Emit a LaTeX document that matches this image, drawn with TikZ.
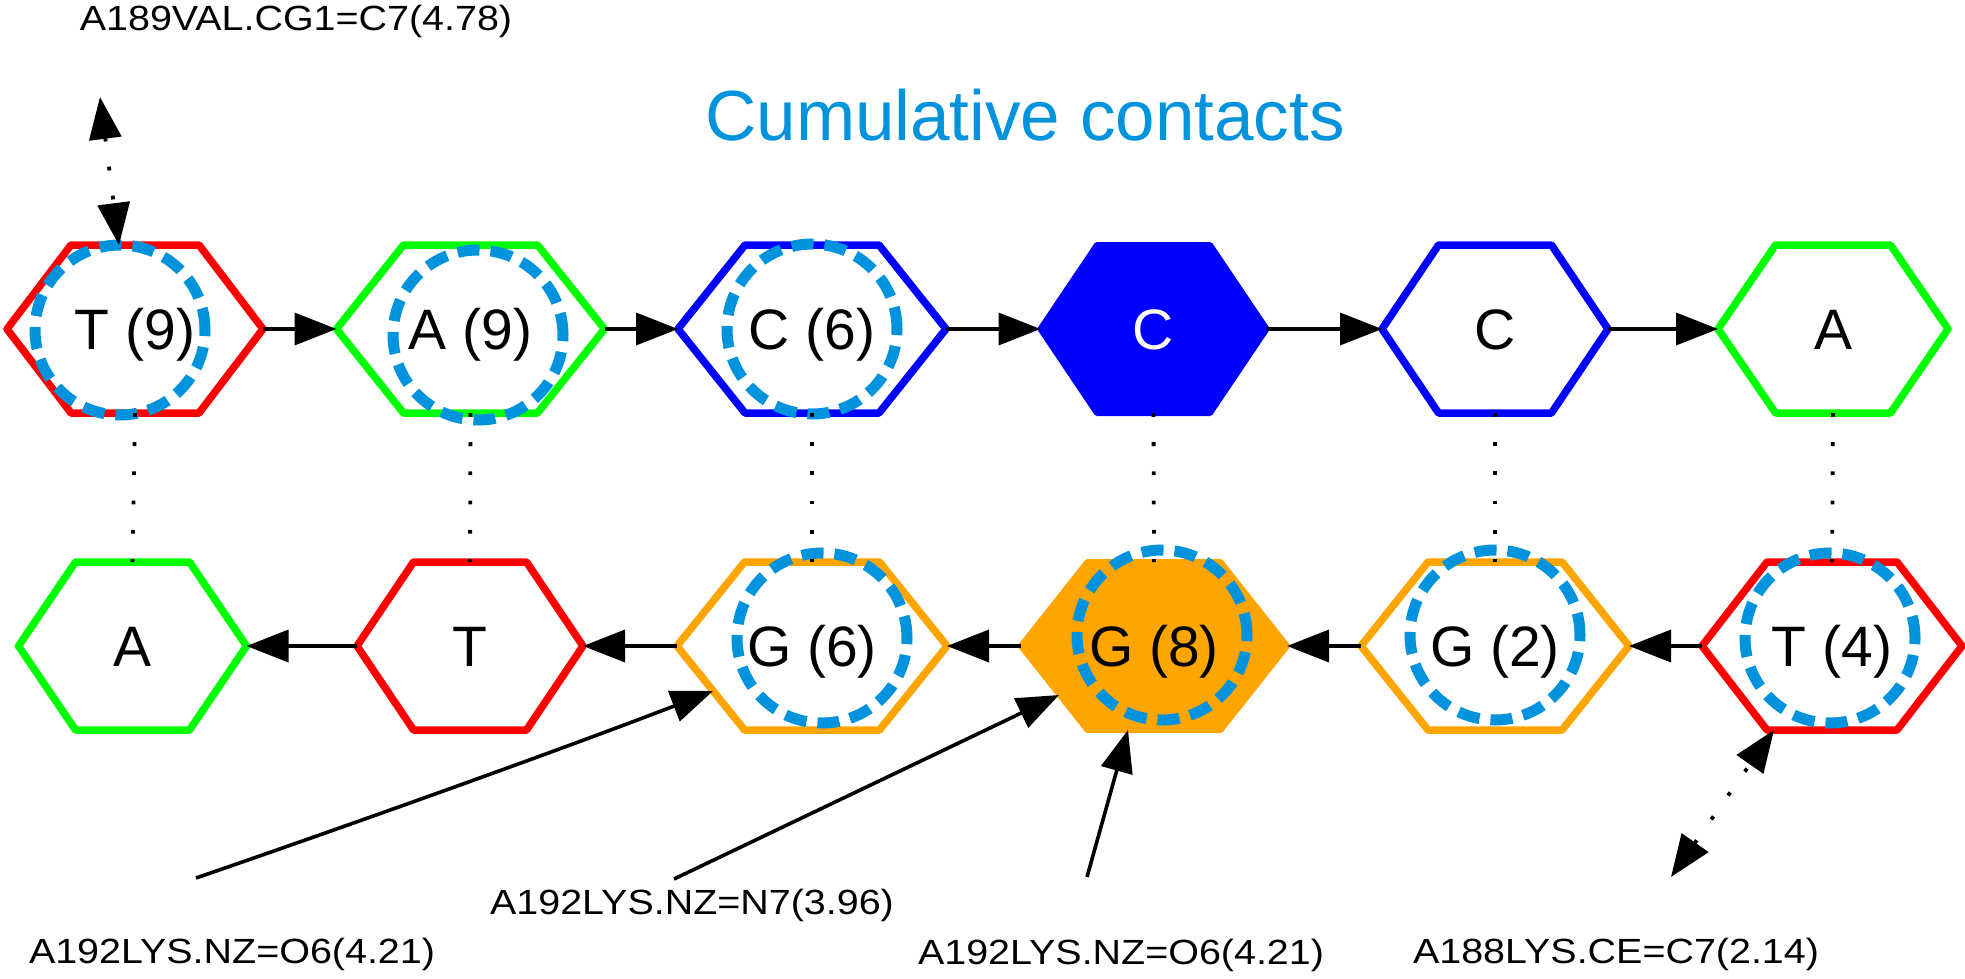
\documentclass[tikz,border=0pt]{standalone}
\usepackage{fontspec}
\setmainfont{Liberation Sans}
\usetikzlibrary{arrows.meta,calc,backgrounds}
\definecolor{ringblue}{HTML}{0093DD}
\definecolor{hexred}{HTML}{FF0000}
\definecolor{hexgreen}{HTML}{00FF00}
\definecolor{hexblue}{HTML}{0000FF}
\definecolor{hexorange}{HTML}{FFA500}
\newcommand{\drawhex}[2]{%
  \draw[#2] (#1.west) -- ($(#1.north west)!.25!(#1.north east)$) -- ($(#1.north west)!.75!(#1.north east)$) -- (#1.east) -- ($(#1.south west)!.75!(#1.south east)$) -- ($(#1.south west)!.25!(#1.south east)$) -- cycle;}
\tikzset{
  hexnode/.style={rectangle, inner sep=0pt, outer sep=0pt, minimum height=168pt, minimum width=#1,
    font=\fontsize{57}{62}\selectfont, text height=40.8pt, text depth=0pt},
  hexline/.style={line width=7.5pt, line join=round, draw=#1},
  hexfill/.style={line width=6pt, line join=round, draw=#1, fill=#1},
  ring/.style={draw=ringblue, line width=11pt, dash pattern=on 22pt off 11pt},
  headtip/.tip={Triangle[length=42pt,width=32pt]},
  link/.style={line width=3.6pt, -headtip},
  pairline/.style={line width=3.8pt, dash pattern=on 3.8pt off 25.4pt},
  dotlink/.style={line width=3.8pt, dash pattern=on 3.8pt off 25.4pt, headtip-headtip},
  contactlab/.style={font=\fontsize{35}{40}\selectfont, anchor=base, inner sep=0pt},
  titlelab/.style={font=\fontsize{71}{80}\selectfont, text=ringblue, anchor=base, inner sep=0pt}
}
\begin{document}
\begin{tikzpicture}[x=1pt,y=-1pt]
\useasboundingbox (0,0) rectangle (1965,978);
% title
\node[titlelab] (title) at (1025,140) {Cumulative contacts};
% top row
\node[hexnode=256pt] (t1) at (135,329) {T (9)};
\node[hexnode=268pt] (t2) at (470.5,329) {A (9)};
\node[hexnode=268pt] (t3) at (812,329) {C (6)};
\node[hexnode=226pt, text=white] (t4) at (1153.5,329) {C};
\node[hexnode=226pt] (t5) at (1495,329) {C};
\node[hexnode=230pt] (t6) at (1833,329) {A};
% bottom row
\node[hexnode=228pt] (b1) at (132.5,646) {A};
\node[hexnode=226pt] (b2) at (470,646) {T};
\node[hexnode=270pt] (b3) at (812,646) {G (6)};
\node[hexnode=266pt] (b4) at (1154,646) {G (8)};
\node[hexnode=268pt] (b5) at (1495,646) {G (2)};
\node[hexnode=260pt] (b6) at (1832,646) {T (4)};
\begin{pgfonlayer}{background}
\drawhex{t1}{hexline=hexred}
\drawhex{t2}{hexline=hexgreen}
\drawhex{t3}{hexline=hexblue}
\drawhex{t4}{hexfill=hexblue}
\drawhex{t5}{hexline=hexblue}
\drawhex{t6}{hexline=hexgreen}
\drawhex{b1}{hexline=hexgreen}
\drawhex{b2}{hexline=hexred}
\drawhex{b3}{hexline=hexorange}
\drawhex{b4}{hexfill=hexorange}
\drawhex{b5}{hexline=hexorange}
\drawhex{b6}{hexline=hexred}
\draw[ring] ($(t1)+(-15,1)$) circle[radius=85pt];
\draw[ring] ($(t2)+(7.5,6)$) circle[radius=85pt];
\draw[ring] ($(t3)+(0,0)$) circle[radius=85pt];
\draw[ring] ($(b3)+(10,-8)$) circle[radius=85pt];
\draw[ring] ($(b4)+(8,-11)$) circle[radius=85pt];
\draw[ring] ($(b5)+(0,-11)$) circle[radius=85pt];
\draw[ring] ($(b6)+(-2,-8)$) circle[radius=85pt];
\end{pgfonlayer}
% backbone arrows
\draw[link] (t1.east) -- (t2.west);
\draw[link] (t2.east) -- (t3.west);
\draw[link] (t3.east) -- (t4.west);
\draw[link] (t4.east) -- (t5.west);
\draw[link] (t5.east) -- (t6.west);
\draw[link] (b6.west) -- (b5.east);
\draw[link] (b5.west) -- (b4.east);
\draw[link] (b4.west) -- (b3.east);
\draw[link] (b3.west) -- (b2.east);
\draw[link] (b2.west) -- (b1.east);
% pairing
\draw[pairline] (t1.south) -- (b1.north);
\draw[pairline] (t2.south) -- (b2.north);
\draw[pairline] (t3.south) -- (b3.north);
\draw[pairline] (t4.south) -- (b4.north);
\draw[pairline] (t5.south) -- (b5.north);
\draw[pairline] (t6.south) -- (b6.north);
% contact labels
\node[contactlab] (l0) at (296,30) {\scalebox{1.127}[1]{A189VAL.CG1=C7(4.78)}};
\node[contactlab] (l1) at (232,963) {\scalebox{1.127}[1]{A192LYS.NZ=O6(4.21)}};
\node[contactlab] (l2) at (692,914) {\scalebox{1.127}[1]{A192LYS.NZ=N7(3.96)}};
\node[contactlab] (l3) at (1121,964) {\scalebox{1.127}[1]{A192LYS.NZ=O6(4.21)}};
\node[contactlab] (l4) at (1616,963) {\scalebox{1.127}[1]{A188LYS.CE=C7(2.14)}};
\coordinate (l0e) at (100,97);
\coordinate (l1e) at (196,878);
\coordinate (l2e) at (674,879);
\coordinate (l3e) at (1087,877);
\coordinate (l4e) at (1671,877);
% contact edges
\draw[dotlink] (l0e) -- ($(t1.north)+(-16,0)$);
\draw[link] (l1e) .. controls (350,825) and (560,750) .. ($(b3)+(-99,45)$);
\draw[link] (l2e) -- ($(b4)+(-95,49)$);
\draw[link] (l3e) -- ($(b4)+(-26,84)$);
\draw[dotlink] (l4e) -- ($(b6)+(-58,84)$);
\end{tikzpicture}
\end{document}
